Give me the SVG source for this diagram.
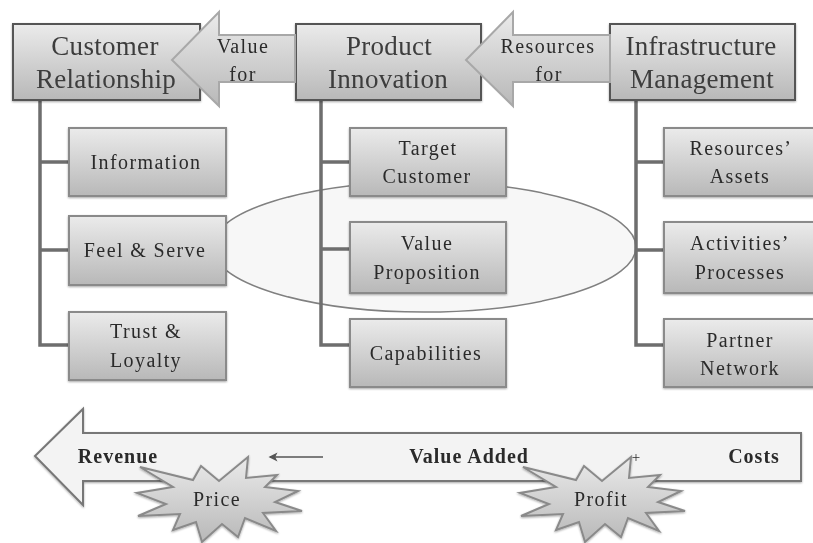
<svg xmlns="http://www.w3.org/2000/svg" width="813" height="543" viewBox="0 0 813 543">
<defs>
<linearGradient id="g" x1="0" y1="0" x2="0" y2="1"><stop offset="0" stop-color="#ebebeb"/><stop offset="1" stop-color="#b8b8b8"/></linearGradient>
<filter id="s" x="-10%" y="-10%" width="120%" height="125%"><feGaussianBlur in="SourceAlpha" stdDeviation="1"/><feOffset dy="1.2"/><feComponentTransfer><feFuncA type="linear" slope="0.35"/></feComponentTransfer><feMerge><feMergeNode/><feMergeNode in="SourceGraphic"/></feMerge></filter>
<filter id="soft" filterUnits="userSpaceOnUse" x="0" y="0" width="813" height="543"><feGaussianBlur stdDeviation="0.45"/></filter>
<marker id="h" markerWidth="8" markerHeight="8" refX="5" refY="3" orient="auto"><path d="M0 0L6 3L0 6L1.5 3Z" fill="#555"/></marker>
<path id="star" d="M140 467L193 480L201 466L219 481L248 457L246 478L277 475L265 487L298 491L275 502L302 511L263 513L276 531L245 518L238 537L222 524L202 542L196 522L173 530L180 514L138 516L166 504L137 493L173 487Z"/>
</defs>
<style>
.main{fill:url(#g);stroke:#555;stroke-width:2;filter:url(#s)}
.sub{fill:url(#g);stroke:#8a8a8a;stroke-width:2;filter:url(#s)}
.arrow{fill:url(#g);stroke:#a8a8a8;stroke-width:2}
.bar{fill:#f3f3f3;stroke:#777;stroke-width:2;filter:url(#s)}
.ell{fill:#f7f7f7;stroke:#808080;stroke-width:1.5}
.burst{fill:url(#g);stroke:#8a8a8a;stroke-width:2;filter:url(#s)}
.conn{fill:none;stroke:#6e6e6e;stroke-width:3.5}
text{text-anchor:middle;fill:#2b2b2b}
.t{font:27px "Liberation Serif",serif;fill:#3c3c3c;letter-spacing:.3px}
.l{font:20px "Liberation Serif",serif;letter-spacing:1.4px}
.a{font:20px "Liberation Serif",serif;letter-spacing:1.4px}
.b{font:bold 20px "Liberation Serif",serif;letter-spacing:1px}
.p{font:15px "Liberation Serif",serif}
</style>
<g filter="url(#soft)">
<g id="connectors">
<ellipse class="ell" cx="424" cy="247" rx="212" ry="65"/>
<path class="conn" d="M40 100V345H69M40 162H69M40 250H69M321 100V345H350M321 162H350M321 249H350M636 100V345H664M636 162H664M636 250H664"/>
</g>
<g id="customer-relationship"><rect class="main" x="13" y="24" width="187" height="76"/><text class="t" x="105" y="55">Customer</text><text class="t" x="106" y="88">Relationship</text></g>
<g id="product-innovation"><rect class="main" x="296" y="24" width="185" height="76"/><text class="t" x="389" y="55">Product</text><text class="t" x="388" y="88">Innovation</text></g>
<g id="infrastructure-management"><rect class="main" x="610" y="24" width="185" height="76"/><text class="t" x="701" y="55">Infrastructure</text><text class="t" x="702" y="88">Management</text></g>
<g id="value-for"><path class="arrow" d="M295 35H219V12L172 60L219 106V82H295Z"/><text class="a" x="243" y="53">Value</text><text class="a" x="243" y="81">for</text></g>
<g id="resources-for"><path class="arrow" d="M610 35H513V12L466 60L513 106V82H610Z"/><text class="a" x="548" y="53">Resources</text><text class="a" x="549" y="81">for</text></g>
<g id="information"><rect class="sub" x="69" y="128" width="157" height="68"/><text class="l" x="146" y="169">Information</text></g>
<g id="feel-serve"><rect class="sub" x="69" y="216" width="157" height="69"/><text class="l" x="145" y="257">Feel &amp; Serve</text></g>
<g id="trust-loyalty"><rect class="sub" x="69" y="312" width="157" height="68"/><text class="l" x="146" y="338">Trust &amp;</text><text class="l" x="146" y="367">Loyalty</text></g>
<g id="target-customer"><rect class="sub" x="350" y="128" width="156" height="68"/><text class="l" x="428" y="155">Target</text><text class="l" x="427" y="183">Customer</text></g>
<g id="value-proposition"><rect class="sub" x="350" y="222" width="156" height="71"/><text class="l" x="427" y="250">Value</text><text class="l" x="427" y="279">Proposition</text></g>
<g id="capabilities"><rect class="sub" x="350" y="319" width="156" height="68"/><text class="l" x="426" y="360">Capabilities</text></g>
<g id="resources-assets"><rect class="sub" x="664" y="128" width="152" height="68"/><text class="l" x="741" y="155">Resources’</text><text class="l" x="740" y="183">Assets</text></g>
<g id="activities-processes"><rect class="sub" x="664" y="222" width="152" height="71"/><text class="l" x="740" y="250">Activities’</text><text class="l" x="740" y="279">Processes</text></g>
<g id="partner-network"><rect class="sub" x="664" y="319" width="152" height="68"/><text class="l" x="740" y="347">Partner</text><text class="l" x="740" y="375">Network</text></g>
<g id="value-bar"><path class="bar" d="M801 433H83V409L35 456L83 505V481H801Z"/>
<text class="b" x="118" y="463">Revenue</text><text class="b" x="469" y="463">Value Added</text><text class="b" x="754" y="463">Costs</text>
<line x1="323" y1="457" x2="270" y2="457" stroke="#555" stroke-width="1.5" marker-end="url(#h)"/>
<text class="p" x="636" y="462">+</text></g>
<g id="price"><use href="#star" class="burst"/><text class="l" x="217" y="506">Price</text></g>
<g id="profit"><use href="#star" class="burst" transform="translate(383 0)"/><text class="l" x="601" y="506">Profit</text></g>
</g>
</svg>
